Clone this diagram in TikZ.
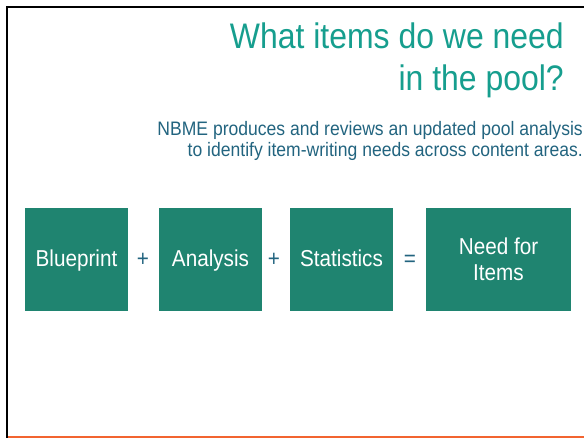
\documentclass[tikz,border=0pt]{standalone}
\usepackage{fontspec}
\setmainfont{Liberation Sans}[FakeStretch=0.9]
\definecolor{titleteal}{HTML}{169E8E}
\definecolor{subblue}{HTML}{22647F}
\definecolor{boxgreen}{HTML}{1F8470}
\definecolor{barorange}{HTML}{F26430}

\begin{document}
\begin{tikzpicture} [x = 1pt, y = -1pt]
\tikzset{
  termbox/.style = {fill = boxgreen, text = white, minimum width = 103pt, minimum height = 103pt,
    inner sep = 0pt, font = \fontsize{23}{26}\selectfont, align = center},
  oneline/.style = {text height = 17pt, text depth = 3pt},
  oper/.style = {oneline, text = subblue, font = \fontsize{23}{26}\selectfont, inner sep = 0pt}
}
\useasboundingbox (0, 0) rectangle (584, 438);
% frame
\draw[black, line width = 2.5pt] (7, 438) -- (7, 7) -- (584, 7);
\draw[barorange, line width = 2.5pt] (8, 437) -- (584, 437);
% heading
\node[titleteal, anchor = north east, align = right, inner sep = 0pt,
  font = \fontsize{35.5}{42}\selectfont] (title) at (564, 22.5) {What items do we need\\in the pool?};
\node[subblue, anchor = north east, align = right, inner sep = 0pt,
  font = \fontsize{19.5}{21}\selectfont] (subtitle) at (583, 121) {NBME produces and reviews an updated pool analysis\\to identify item-writing needs across content areas.};
% equation
\node[termbox, oneline] (blueprint) at (76.5, 259.5) {Blueprint};
\node[oper] (plusA) at (143, 259.5) {+};
\node[termbox, oneline] (analysis) at (210.5, 259.5) {Analysis};
\node[oper] (plusB) at (274, 259.5) {+};
\node[termbox, oneline] (statistics) at (341.5, 259.5) {Statistics};
\node[oper] (equals) at (410, 259.5) {=};
\node[termbox, minimum width = 145pt] (need) at (498.5, 259.5) {Need for\\Items};
\end{tikzpicture}
\end{document}
